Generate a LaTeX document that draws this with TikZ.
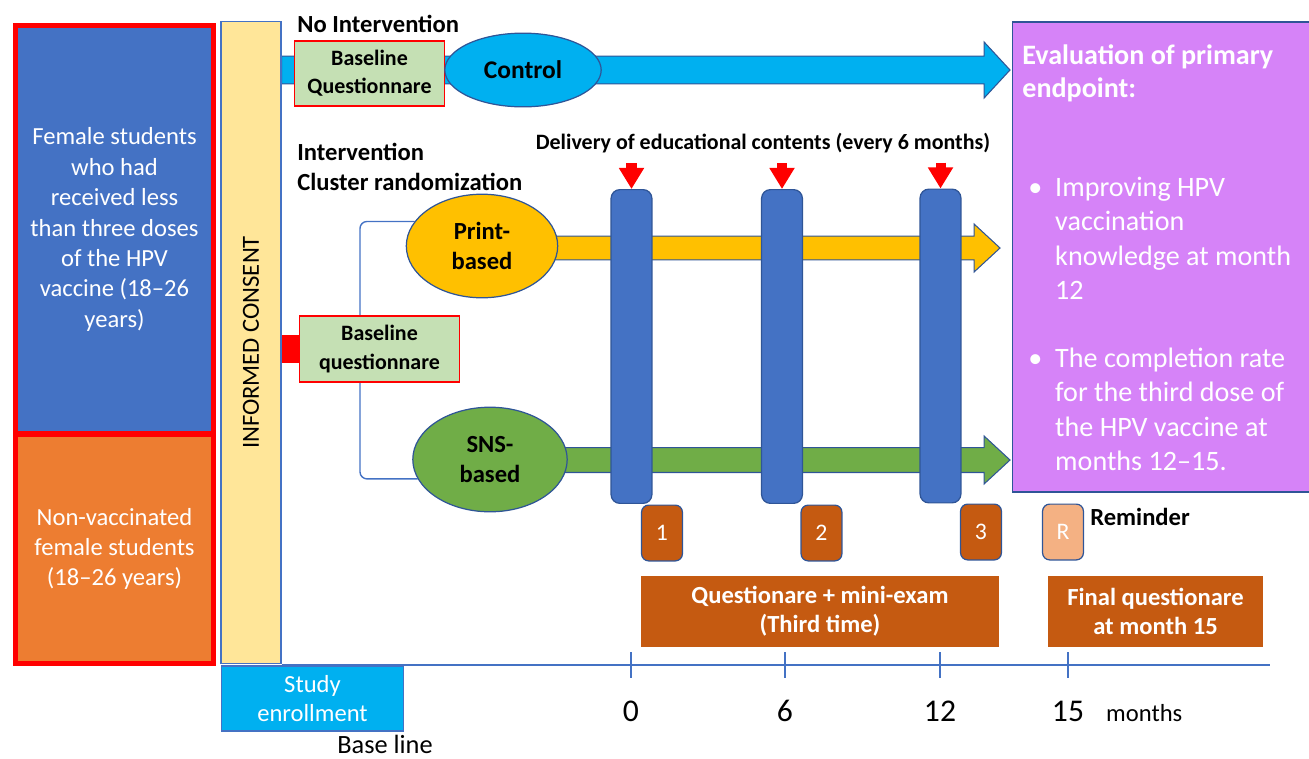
\documentclass[tikz,border=0pt]{standalone}
\usepackage{fontspec}
\setmainfont{Carlito}
\usetikzlibrary{arrows.meta,positioning,calc,shapes.geometric,backgrounds}
\definecolor{hpBlue}{HTML}{4472C4}
\definecolor{hpNavy}{HTML}{2F5597}
\definecolor{hpOrange}{HTML}{ED7D31}
\definecolor{hpRust}{HTML}{C55A11}
\definecolor{hpPeach}{HTML}{F4B183}
\definecolor{hpCyan}{HTML}{00B0F0}
\definecolor{hpGold}{HTML}{FFC000}
\definecolor{hpLeaf}{HTML}{70AD47}
\definecolor{hpMint}{HTML}{C5E0B4}
\definecolor{hpCream}{HTML}{FFE699}
\definecolor{hpLilac}{HTML}{D683F8}
\newcommand{\pxu}{0.5669pt}
% block arrow: tail, tip, style, half shaft, half head
\newcommand{\fatarrow}[5]{%
  \draw[#3] let \p1=(#1), \p2=(#2) in
    (\x1,\y2+#4) -- (\x2-14.7pt,\y2+#4) -- (\x2-14.7pt,\y2+#5) -- (\p2)
    -- (\x2-14.7pt,\y2-#5) -- (\x2-14.7pt,\y2-#4) -- (\x1,\y2-#4) -- cycle;}

\begin{document}
\begin{tikzpicture}[x=0.02cm, y=-0.02cm,
  grp/.style={draw=red, line width=2.8pt, text=white, align=center, inner sep=0pt,
    minimum width=199*\pxu, font=\fontsize{14}{17.3}\selectfont},
  bqbox/.style={draw=red, line width=0.9pt, fill=hpMint, align=center, inner sep=0pt,
    minimum height=65*\pxu, font=\bfseries\fontsize{12.5}{16}\selectfont},
  oval/.style={ellipse, draw=hpNavy, line width=0.7pt, align=center, inner sep=0pt,
    font=\bfseries\fontsize{14}{17}\selectfont},
  dose/.style={rounded corners=5pt, fill=hpBlue, draw=hpNavy, line width=0.7pt,
    minimum width=41*\pxu, minimum height=315*\pxu},
  numb/.style={rounded corners=4pt, fill=hpRust, draw=hpNavy, line width=0.7pt,
    minimum width=41*\pxu, minimum height=56*\pxu, text=white, font=\fontsize{13.5}{15}\selectfont},
  qbar/.style={fill=hpRust, text=white, align=center, inner sep=0pt,
    minimum height=71*\pxu, font=\bfseries\fontsize{14}{16.5}\selectfont},
  lbl/.style={font=\bfseries\fontsize{14}{17}\selectfont, align=left, inner sep=0pt},
  evtxt/.style={text=white, inner sep=0pt, font=\fontsize{16}{19.6}\selectfont},
  dlv/.style={red, line width=5.7pt, -{Triangle[length=12pt,width=13.6pt]}},
  axis/.style={hpBlue, line width=1pt},
  brk/.style={hpBlue, line width=0.8pt, rounded corners=4pt}]
\useasboundingbox (0,0) rectangle (1309,758);

% participants
\node[grp, fill=hpBlue, minimum height=409*\pxu] (grpA) at (114.5,229.5)
  {Female students\\who had\\received less\\than three doses\\of the HPV\\vaccine (18--26\\years)};
\node[grp, fill=hpOrange, minimum height=230*\pxu] (grpB) at (114.5,549)
  {Non-vaccinated\\female students\\(18--26 years)};

% consent and enrollment
\node[draw=hpBlue, fill=hpCream, line width=0.8pt, minimum width=60*\pxu, minimum height=645*\pxu] (consent) at (251,342.5) {};
\node[rotate=90, font=\fontsize{14}{17}\selectfont] (consentLbl) at (consent.center) {INFORMED CONSENT};
\node[fill=hpCyan, draw=hpBlue, line width=0.8pt, minimum width=183*\pxu, minimum height=65*\pxu,
  text=white, align=center, inner sep=0pt, font=\fontsize{14}{16}\selectfont] (enroll) at (312.5,698.5) {Study\\enrollment};
\node[font=\fontsize{15}{18}\selectfont] (baseLbl) at (385,744) {Base line};

% control arm
\node[lbl, anchor=west] (noInt) at (297,24) {No Intervention};
\node[bqbox, minimum width=151*\pxu] (bq1) at (369.5,73.5) {Baseline\\Questionnare};
\node[oval, fill=hpCyan, minimum width=157*\pxu, minimum height=74*\pxu, font=\bfseries\fontsize{14.5}{17}\selectfont] (ctl) at (523,70) {Control};
\coordinate (ctlTip) at (1010,70);

% intervention arms
\node[lbl, anchor=west] (intLbl) at (297,167) {Intervention\\Cluster randomization};
\node[bqbox, minimum width=161*\pxu, minimum height=66*\pxu] (bq2) at (379.5,349) {Baseline\\questionnare};
\node[oval, fill=hpGold, minimum width=152*\pxu, minimum height=104*\pxu] (prt) at (482,246) {Print-\\based};
\node[oval, fill=hpLeaf, minimum width=155*\pxu, minimum height=105*\pxu] (sns) at (490,459.5) {SNS-\\based};
\coordinate (prtTip) at (1000,248);
\coordinate (snsTip) at (1010,460);
\coordinate (brkX) at (360,350);

% educational contents
\node[font=\bfseries\fontsize{12.5}{15}\selectfont] (dlvLbl) at (763,143) {Delivery of educational contents (every 6 months)};
\node[dose] (bar1) at (631.5,346.5) {};
\node[dose] (bar2) at (782,346.5) {};
\node[dose] (bar3) at (940.5,346) {};
\foreach \b in {bar1,bar2,bar3}{\draw[dlv] ($(\b.north)+(0,-26)$) -- (\b.north);}

% questionnaires
\node[numb] (n1) at (662,533) {1};
\node[numb] (n2) at (821.5,533) {2};
\node[numb] (n3) at (981,532) {3};
\node[numb, fill=hpPeach] (nR) at (1063,532) {R};
\node[lbl, anchor=west] (remLbl) at (1090,517) {Reminder};
\node[qbar, minimum width=360*\pxu] (qBox) at (820,611.5) {Questionare + mini-exam\\(Third time)};
\node[qbar, minimum width=215*\pxu] (finBox) at (1155.5,611.5) {Final questionare\\at month 15};

% primary endpoint
\node[fill=hpLilac, draw=hpNavy, line width=0.8pt, minimum width=300*\pxu, minimum height=472*\pxu] (eval) at (1162,257) {};
\node[evtxt, anchor=north west, font=\bfseries\fontsize{16}{18.7}\selectfont] (evTitle) at (1022,41)
  {\begin{tabular}[t]{@{}l@{}}Evaluation of primary\\endpoint:\end{tabular}};
\node[evtxt, anchor=north west] (evA) at (1028,172)
  {\begin{tabular}[t]{@{}p{15.3pt}@{}l@{}}\textbullet & Improving HPV\\ & vaccination\\ & knowledge at month\\ & 12\end{tabular}};
\node[evtxt, anchor=north west] (evB) at (1028,343)
  {\begin{tabular}[t]{@{}p{15.3pt}@{}l@{}}\textbullet & The completion rate\\ & for the third dose of\\ & the HPV vaccine at\\ & months 12--15.\end{tabular}};

% time axis
\coordinate (axR) at (1270,665);
\draw[axis] (consent.east |- axR) -- (axR);
\foreach \x/\m in {631/0,785/6,940/12,1068/15}{
  \draw[axis] (\x,652) -- (\x,678);
  \node[anchor=base, font=\fontsize{18}{20}\selectfont] (t\m) at (\x,721) {\m};}
\node[anchor=base west, font=\fontsize{14}{17}\selectfont] (monthsLbl) at (1100,721) {months};

\begin{scope}[on background layer]
\fatarrow{consent.east |- ctl}{ctlTip}{fill=hpCyan, draw=hpNavy, line width=0.6pt}{7.9pt}{15.9pt}
\fatarrow{prt.center}{prtTip}{fill=hpGold, draw=hpNavy, line width=0.6pt}{6.8pt}{13.6pt}
\fatarrow{sns.center}{snsTip}{fill=hpLeaf, draw=hpNavy, line width=0.6pt}{7.1pt}{13.6pt}
\draw[brk] (prt.160) -| (brkX) |- (sns.195);
\draw[red, line width=15.9pt] (consent.east |- bq2.west) -- (bq2.west);
\end{scope}
\end{tikzpicture}
\end{document}
